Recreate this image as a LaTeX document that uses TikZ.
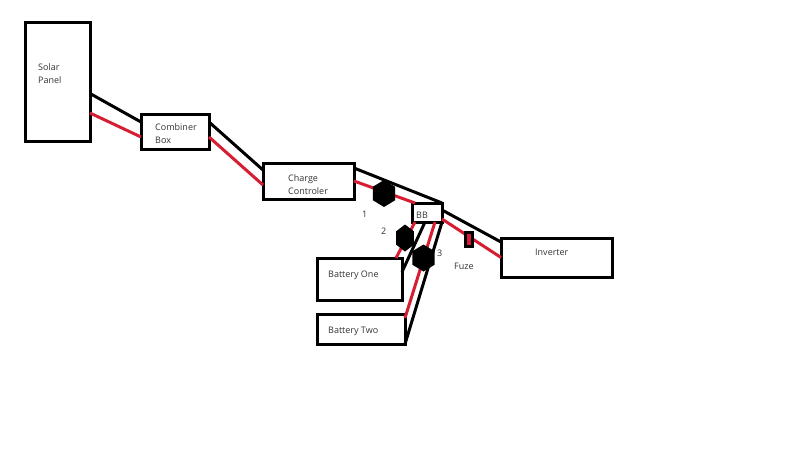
\documentclass[tikz,border=0pt]{standalone}
\usepackage{fontspec}
\setmainfont{Open Sans}
\usetikzlibrary{calc, shapes.geometric}
\definecolor{wirered}{RGB}{214,30,50}
\tikzset{
    box/.style={draw=black,line width=3pt,rectangle,outer sep=0pt,inner sep=0pt},
    blackwire/.style={black,line width=3pt},
    redwire/.style={wirered,line width=3pt},
    lbl/.style={font=\fontsize{9}{13}\selectfont,text=black!80,inner sep=0pt,anchor=west,align=left},
    hexnut/.style={draw=none,fill=black,regular polygon,regular polygon sides=6,shape border rotate=30,inner sep=0pt,minimum size=27pt}
}
\begin{document}
\begin{tikzpicture}[x=1pt,y=-1pt]
    \useasboundingbox (0,0) rectangle (800,450);
    % boxes
    \node[box,minimum width=65pt,minimum height=119pt] (solar) at (57.5,81.5) {};
    \node[box,minimum width=68pt,minimum height=35pt] (combiner) at (175,131.5) {};
    \node[box,minimum width=91pt,minimum height=36pt] (charge) at (308.5,181) {};
    \node[box,minimum width=30pt,minimum height=19pt] (bb) at (427,212.5) {};
    \node[box,minimum width=85pt,minimum height=42pt] (batone) at (359.5,279) {};
    \node[box,minimum width=88pt,minimum height=30pt] (battwo) at (361,329) {};
    \node[box,minimum width=111pt,minimum height=39pt] (inverter) at (556.5,257.5) {};

    % texts
    \node[lbl] (solartext) at (38,73.5) {Solar\\Panel};
    \node[lbl] (combinertext) at (155,133.5) {Combiner\\Box};
    \node[lbl] (chargetext) at (288,184.5) {Charge\\Controler};
    \node[lbl] (bbtext) at (416,215) {BB};
    \node[lbl] (batonetext) at (328,275) {Battery One};
    \node[lbl] (battwotext) at (328,331) {Battery Two};
    \node[lbl] (invertertext) at (535,252) {Inverter};
    \node[lbl] (fuzetext) at (454,266) {Fuze};
    \node[lbl] (onetext) at (362,214) {1};
    \node[lbl] (twotext) at (381,231) {2};
    \node[lbl] (threetext) at (437,253) {3};

    % wires
    \draw[blackwire] ([yshift=-12pt]solar.east) -- ([yshift=9.5pt]combiner.west);
    \draw[redwire] ([yshift=-31.5pt]solar.east) -- ([yshift=-5.5pt]combiner.west);
    \draw[blackwire] ([yshift=9.5pt]combiner.east) -- ([yshift=11pt]charge.west);
    \draw[redwire] ([yshift=-5.5pt]combiner.east) -- ([yshift=-4pt]charge.west);
    \draw[blackwire] ([yshift=13pt]charge.east) -- (bb.north east);
    \draw[redwire] (charge.east) -- ([xshift=3pt]bb.north west);
    \draw[blackwire] ([yshift=2.5pt]bb.east) -- ([yshift=15.5pt]inverter.west);
    \draw[redwire] ([yshift=-6.5pt]bb.east) -- (inverter.west);
    \draw[redwire] ([xshift=3pt]bb.south west) -- ([xshift=36.5pt]batone.north);
    \draw[blackwire] ([xshift=13pt]bb.south west) -- ([yshift=7pt]batone.east);
    \draw[redwire] ([xshift=8pt]bb.south) -- ([yshift=-4pt]battwo.north east);
    \draw[blackwire] (bb.south east) -- (battwo.south east);

    % fuse and the three round parts
    \node[draw=black,fill=wirered,line width=3pt,rectangle,outer sep=0pt,inner sep=0pt,minimum width=7pt,minimum height=14pt] (fuze) at (469,239) {};
    \node[hexnut,xscale=.95,transform shape] (hexone) at (384,193.5) {};
    \node[hexnut,xscale=.75,transform shape] (hextwo) at (405,238) {};
    \node[hexnut,xscale=.95,transform shape] (hexthree) at (423.5,258) {};
\end{tikzpicture}
\end{document}
